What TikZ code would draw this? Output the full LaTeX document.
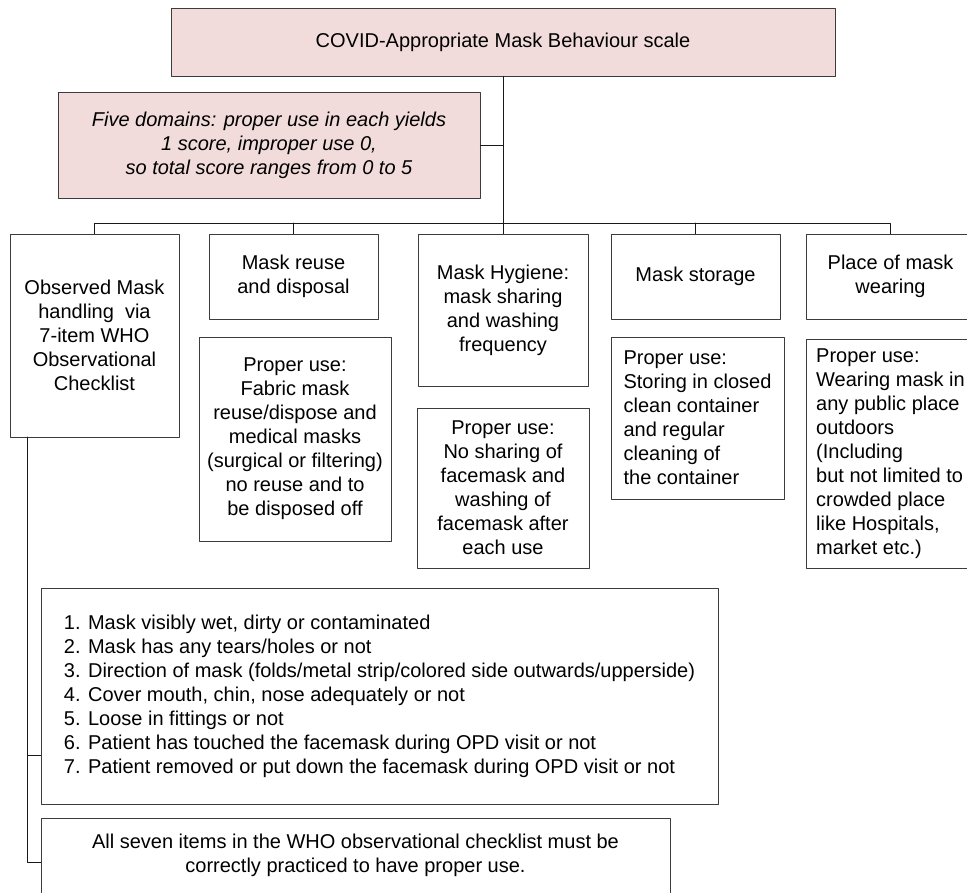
\documentclass[tikz,border=0pt]{standalone}
\usepackage{fontspec}
\setmainfont{Liberation Sans}
\definecolor{boxpink}{RGB}{242,220,219}
\definecolor{edgegray}{RGB}{60,60,60}
\tikzset{
  box/.style={draw=edgegray, line width=0.9pt, inner sep=0pt, align=center, font=\fontsize{20}{24}\selectfont},
  pinkbox/.style={box, fill=boxpink},
  usebox/.style={box, align=left},
  link/.style={draw=black!90, line width=1pt},
}

\begin{document}
\begin{tikzpicture}[x=1pt, y=-1pt, line join=round, line cap=round]
			\useasboundingbox (0,0) rectangle (967,892);
			% scale and scoring
			\node[pinkbox, minimum width=664, minimum height=68] (scale) at (503,42) {COVID-Appropriate Mask Behaviour scale};
			\node[pinkbox, font=\fontsize{20}{24}\selectfont\itshape, minimum width=422, minimum height=106] (domains) at (269,145) {Five domains: proper use in each yields\\1 score, improper use 0,\\so total score ranges from 0 to 5};
			% five domains
			\node[box, minimum width=169, minimum height=203] (obs) at (94.5,335.5) {Observed Mask\\handling\ \ via\\7-item WHO\\Observational\\Checklist};
			\node[box, minimum width=169, minimum height=85] (reuse) at (293.5,276.5) {Mask reuse\\and disposal};
			\node[box, minimum width=170, minimum height=152] (hyg) at (503,310) {Mask Hygiene:\\mask sharing\\and washing\\frequency};
			\node[box, minimum width=169, minimum height=85] (stor) at (695.5,276.5) {Mask storage};
			\node[box, minimum width=169, minimum height=85] (place) at (890.5,276.5) {Place of mask\\wearing};
			% proper use
			\node[box, minimum width=192, minimum height=204] (reuseuse) at (295,439) {Proper use:\\Fabric mask\\reuse/dispose and\\medical masks\\(surgical or filtering)\\no reuse and to\\be disposed off};
			\node[box, minimum width=172, minimum height=160] (hyguse) at (503,488) {Proper use:\\No sharing of\\facemask and\\washing of\\facemask after\\each use};
			\node[usebox, minimum width=173, minimum height=162] (storuse) at (697.5,418) {Proper use:\\Storing in closed\\clean container\\and regular\\cleaning of\\the container};
			\node[usebox, minimum width=169, minimum height=229] (placeuse) at (890.5,453.5) {Proper use:\\Wearing mask in\\any public place\\outdoors\\(Including\\but not limited to\\crowded place\\like Hospitals,\\market etc.)};
			% checklist
			\node[usebox, minimum width=677, minimum height=216] (list) at (379.5,696) {1. Mask visibly wet, dirty or contaminated\\2. Mask has any tears/holes or not\\3. Direction of mask (folds/metal strip/colored side outwards/upperside)\\4. Cover mouth, chin, nose adequately or not\\5. Loose in fittings or not\\6. Patient has touched the facemask during OPD visit or not\\7. Patient removed or put down the facemask during OPD visit or not};
			\node[box, minimum width=629, minimum height=75] (allseven) at (355.5,855.5) {All seven items in the WHO observational checklist must be\\correctly practiced to have proper use.};
			% connectors
			\coordinate (bus) at (503,223);
			\coordinate (spine) at (27,437);
			\draw[link] (scale.south) -- (bus);
			\draw[link] (domains.east) -- (domains.east -| scale.south);
			\draw[link] (obs.north) -- (obs.north |- bus) -- (place.north |- bus) -- (place.north);
			\draw[link] (reuse.north) -- (reuse.north |- bus)  (hyg.north) -- (hyg.north |- bus)  (stor.north) -- (stor.north |- bus);
			\draw[link] (spine) |- ([yshift=-59pt]list.west)  (spine) |- ([yshift=-6.5pt]allseven.west);
		\end{tikzpicture}
\end{document}
